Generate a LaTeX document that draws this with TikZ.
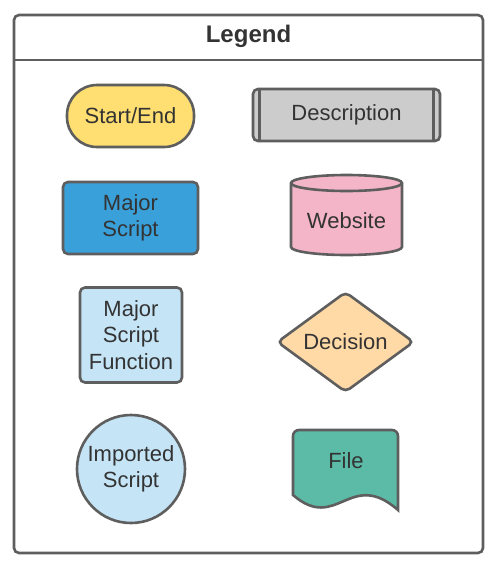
\documentclass[tikz,border=0pt]{standalone}
\usepackage{fontspec}
\setmainfont{Liberation Sans}
\usetikzlibrary{shapes.geometric}
\definecolor{edgegray}{HTML}{5E5E5E}
\definecolor{textgray}{HTML}{333333}
\definecolor{startyellow}{HTML}{FFDF71}
\definecolor{scriptblue}{HTML}{3AA0DA}
\definecolor{descgray}{HTML}{CCCCCC}
\definecolor{websitepink}{HTML}{F4B5C9}
\definecolor{funcblue}{HTML}{C5E5F7}
\definecolor{decisionorange}{HTML}{FFD9A6}
\definecolor{fileteal}{HTML}{5BBBA6}
\tikzset{
  shape line/.style={draw=edgegray, line width=2.6pt},
  legend text/.style={text=textgray, align=center, font=\fontsize{22}{26.5}\selectfont},
  legend box/.style={shape line, legend text, inner sep=0pt, rounded corners=5pt}
}

\begin{document}
\begin{tikzpicture}[x=1pt,y=-1pt]
  \useasboundingbox (0,0) rectangle (497,568);
  % legend frame
  \draw[shape line, rounded corners=5pt] (14,15) rectangle (483,553);
  \draw[shape line] (14,60) -- (483,60);
  \node[text=textgray, font=\bfseries\fontsize{24}{28}\selectfont] (title) at (248.5,36) {Legend};
  % left column
  \node[legend box, fill=startyellow, rounded corners=30pt, minimum width=127pt, minimum height=62pt] (startend) at (130.5,116) {Start/End};
  \node[legend box, fill=scriptblue, minimum width=135pt, minimum height=72pt] (major) at (130.5,218) {Major\\Script};
  \node[legend box, fill=funcblue, minimum width=102pt, minimum height=95pt] (function) at (131,335) {Major\\Script\\Function};
  \node[shape line, legend text, circle, inner sep=0pt, fill=funcblue, minimum size=108pt] (imported) at (131,469) {Imported\\Script};
  % right column
  \node[legend box, fill=descgray, minimum width=187pt, minimum height=52pt] (desc) at (346.5,115) {Description};
  \draw[shape line] ([xshift=8pt]desc.north west) -- ([xshift=8pt]desc.south west);
  \draw[shape line] ([xshift=-8pt]desc.north east) -- ([xshift=-8pt]desc.south east);
  % website cylinder
  \draw[shape line, fill=websitepink] (291,183) -- (291,247)
    arc[start angle=180, end angle=360, x radius=55.5pt, y radius=8pt] -- (402,183)
    arc[start angle=0, end angle=180, x radius=55.5pt, y radius=8pt] -- cycle;
  \draw[shape line] (291,183) arc[start angle=180, end angle=360, x radius=55.5pt, y radius=8pt];
  \node[legend text] (website) at (346.5,221) {Website};
  \node[shape line, legend text, diamond, inner sep=0pt, rounded corners=5pt, fill=decisionorange,
    minimum width=137pt, minimum height=100pt] (decision) at (345.5,342) {Decision};
  % file
  \draw[shape line, fill=fileteal] (293,495) [rounded corners=6pt]-- (293,430) -- (398,430)
    [sharp corners]-- (398,510) .. controls (350,468) and (337,533) .. (293,495) -- cycle;
  \node[legend text] (file) at (346,461) {File};
\end{tikzpicture}
\end{document}
